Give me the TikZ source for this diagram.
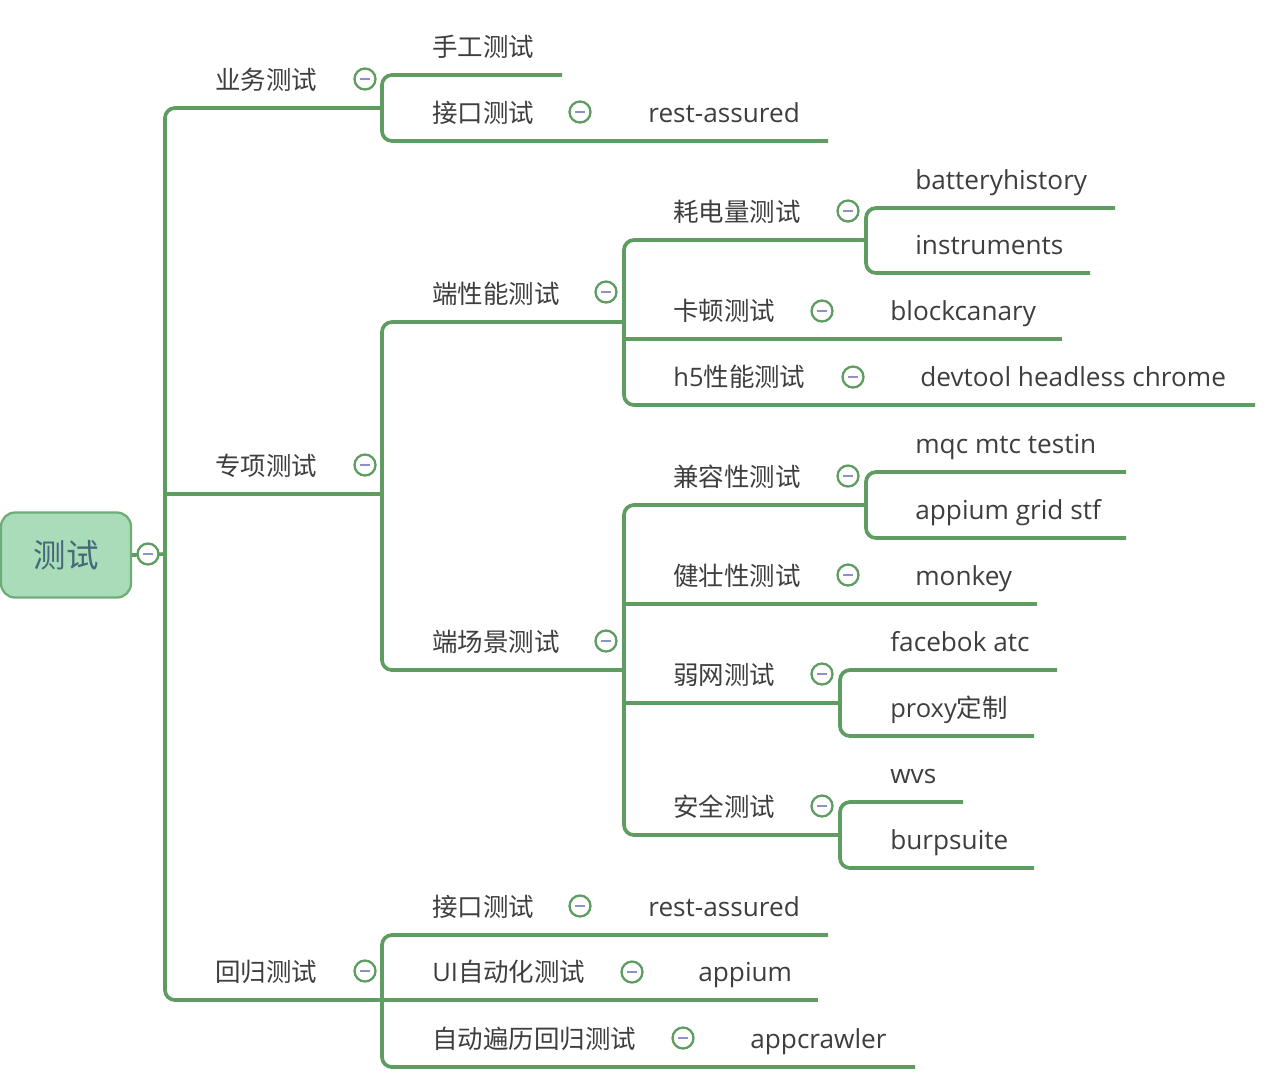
\documentclass[tikz,border=0pt]{standalone}
\usepackage{fontspec}
\setmainfont{Open Sans}
\newfontfamily\cjk{Noto Sans CJK SC}
\usetikzlibrary{positioning}

\definecolor{linegreen}{HTML}{5F9C61}
\definecolor{rootfill}{HTML}{A9DCB9}
\definecolor{rootline}{HTML}{6DAE78}
\definecolor{roottext}{HTML}{46687A}
\definecolor{textgray}{HTML}{3E3E3E}
\definecolor{minuscol}{HTML}{8C92C6}

\begin{document}
\begin{tikzpicture}[
    x=0.02cm, y=-0.02cm,
    branch/.style={draw=linegreen, line width=2.1pt, rounded corners=0.2cm},
    topic/.style={anchor=base west, inner sep=0, text=textgray,
                  font=\cjk\fontsize{14.5}{17}\selectfont},
    leaf/.style={topic, font=\normalfont\fontsize{14.9}{17}\selectfont},
    fold/.style={circle, draw=linegreen, line width=1.3pt, fill=white,
                 minimum size=0.42cm, inner sep=0,
                 path picture={\draw[minuscol, line width=0.9pt]
                   ([xshift=-0.1cm]path picture bounding box.center) --
                   ([xshift=0.1cm]path picture bounding box.center);}},
    rootbox/.style={draw=rootline, fill=rootfill, line width=1.3pt,
                    rounded corners=0.28cm, minimum width=2.6cm,
                    minimum height=1.7cm, text=roottext,
                    font=\cjk\fontsize{18.5}{20}\selectfont}
  ]
  \useasboundingbox (0,0) rectangle (1266,1080);

  % Root
  \node[rootbox] (root) at (66,555) {测试};
  \coordinate (rs) at (165,554);

  % Lines of the tree
  \draw[branch] (382,108) -| (165,1000) -- (382,1000);
  \draw[branch] (root.east) -- (rs);
  \draw[branch] (165,494) -- (382,494);
  % 业务测试
  \draw[branch] (562,75) -| (382,141) -- (828,141);
  % 专项测试
  \draw[branch] (624,322) -| (382,670) -- (624,670);
  \draw[branch] (866,240) -| (624,405) -- (1255,405);
  \draw[branch] (624,339) -- (1062,339);
  \draw[branch] (1115,208) -| (866,273) -- (1090,273);
  \draw[branch] (866,505) -| (624,835) -- (840,835);
  \draw[branch] (624,604) -- (1037,604);
  \draw[branch] (624,703) -- (840,703);
  \draw[branch] (1126,472) -| (866,538) -- (1126,538);
  \draw[branch] (1057,670) -| (840,736) -- (1034,736);
  \draw[branch] (963,802) -| (840,868) -- (1034,868);
  % 回归测试
  \draw[branch] (828,935) -| (382,1067) -- (915,1067);
  \draw[branch] (382,1000) -- (818,1000);

  % Level 1
  \node[topic] (yw) at (215,89) {业务测试};
  \node[topic] (zx) at (215,475) {专项测试};
  \node[topic] (hg) at (215,981) {回归测试};

  % 业务测试
  \node[topic] (sg) at (432,56) {手工测试};
  \node[topic] (jk) at (432,122) {接口测试};
  \node[leaf] (ra) at (648,122) {rest-assured};

  % 专项测试
  \node[topic] (xn) at (432,303) {端性能测试};
  \node[topic] (cj) at (432,651) {端场景测试};
  \node[topic] (hd) at (673,221) {耗电量测试};
  \node[leaf] (bh) at (915,189) {batteryhistory};
  \node[leaf] (in) at (915,254) {instruments};
  \node[topic] (kd) at (673,320) {卡顿测试};
  \node[leaf] (bc) at (890,320) {blockcanary};
  \node[topic] (h5) at (673,386) {{\normalfont h5}性能测试};
  \node[leaf] (dv) at (920,386) {devtool headless chrome};
  \node[topic] (jr) at (673,486) {兼容性测试};
  \node[leaf] (mq) at (915,453) {mqc mtc testin};
  \node[leaf] (ag) at (915,519) {appium grid stf};
  \node[topic] (jz) at (673,585) {健壮性测试};
  \node[leaf] (mk) at (915,585) {monkey};
  \node[topic] (rw) at (673,684) {弱网测试};
  \node[leaf] (fb) at (890,651) {facebok atc};
  \node[topic] (px) at (890,717) {{\normalfont proxy}定制};
  \node[topic] (aq) at (673,816) {安全测试};
  \node[leaf] (wv) at (890,783) {wvs};
  \node[leaf] (bs) at (890,849) {burpsuite};

  % 回归测试
  \node[topic] (jk2) at (432,916) {接口测试};
  \node[leaf] (ra2) at (648,916) {rest-assured};
  \node[topic] (ui) at (432,981) {{\normalfont UI}自动化测试};
  \node[leaf] (ap) at (698,981) {appium};
  \node[topic] (zd) at (432,1048) {自动遍历回归测试};
  \node[leaf] (ac) at (750,1048) {appcrawler};

  % Fold marks
  \node[fold] (f0) at (rs) [xshift=-0.34cm] {};
  \foreach \n/\x/\y in {f1/365/79, f2/365/465, f3/365/971, f4/580/112,
                        f5/606/292, f6/606/641, f7/848/211, f8/822/311,
                        f9/853/377, f10/848/476, f11/848/575, f12/822/674,
                        f13/822/806, f14/580/906, f15/632/972, f16/683/1038}
    \node[fold] (\n) at (\x,\y) {};
\end{tikzpicture}
\end{document}
